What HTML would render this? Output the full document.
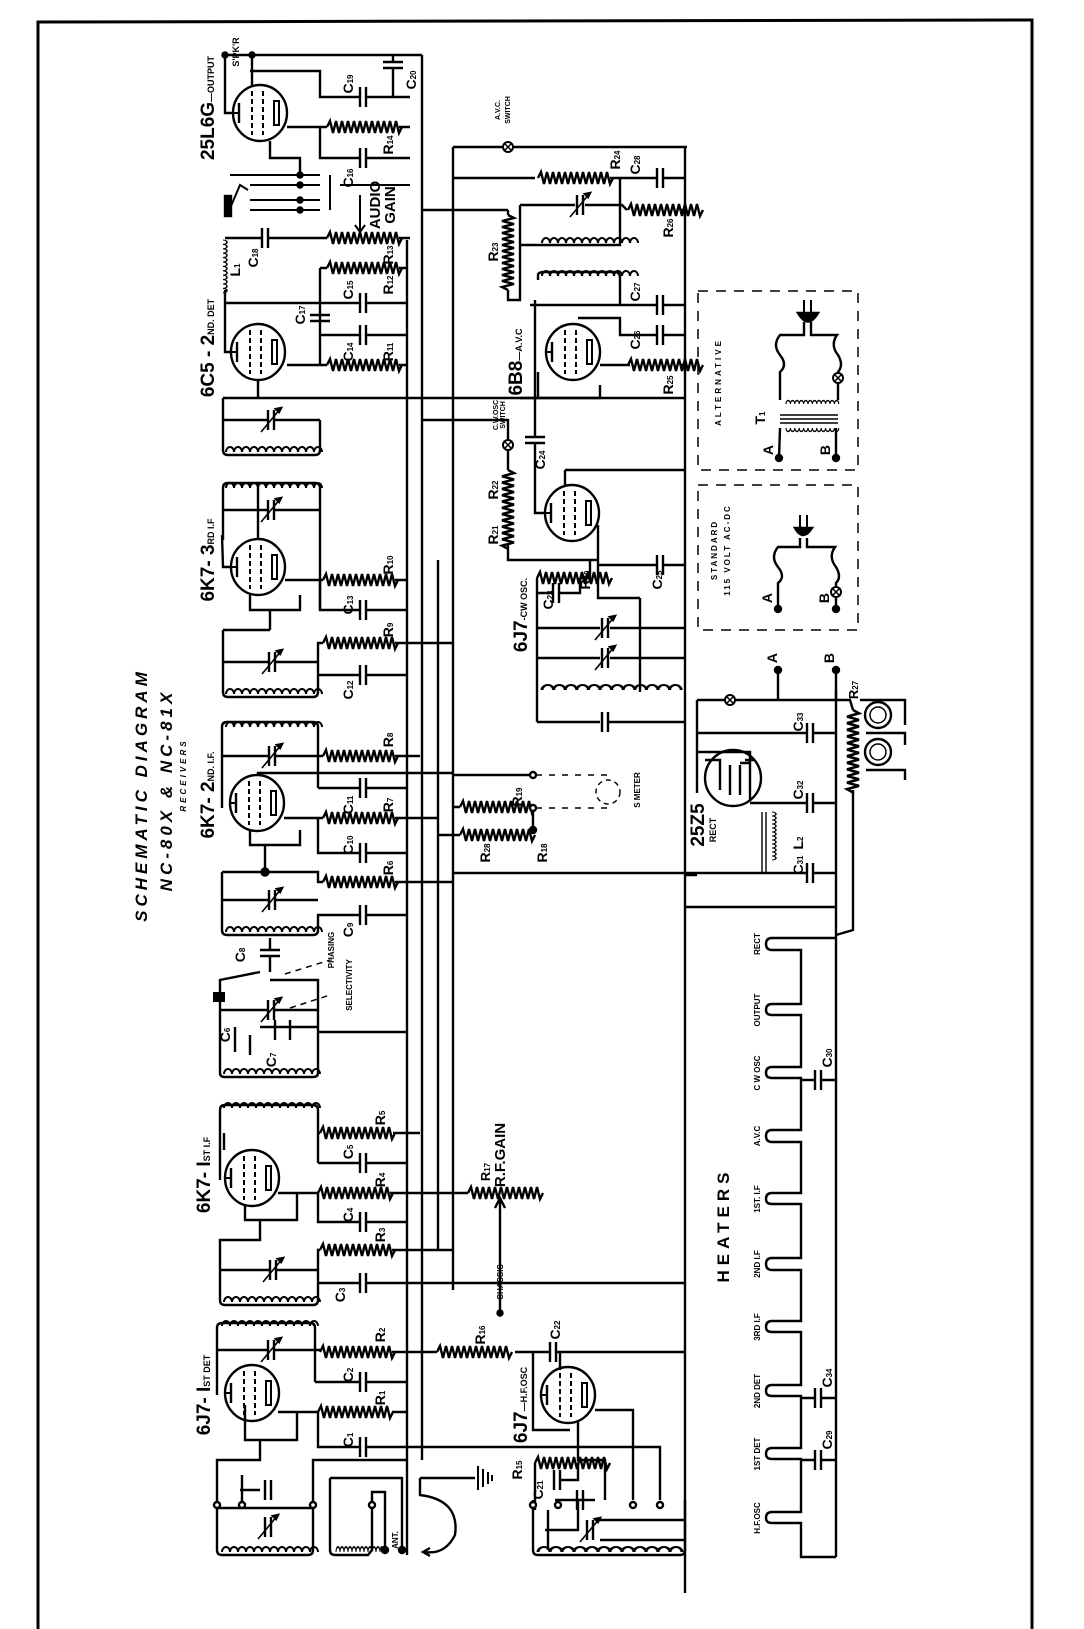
<!DOCTYPE html>
<html><head><meta charset="utf-8">
<style>
html,body{margin:0;padding:0;background:#fff;}
svg{display:block}
text{font-family:"Liberation Sans",sans-serif;font-weight:bold;fill:#000}
</style></head><body>
<svg width="1084" height="1629" viewBox="0 0 1084 1629" xmlns="http://www.w3.org/2000/svg">
<defs>
<path id="res" d="M0,0 l3,-6 l3,12 l3,-12 l3,12 l3,-12 l3,12 l3,-12 l3,12 l3,-12 l3,12 l3,-12 l3,12 l3,-12 l3,12 l3,-12 l3,12 l3,-12 l3,12 l3,-12 l3,12 l3,-12 l3,12 l3,-12 l3,12 l3,-6" fill="none" stroke="#000" stroke-width="2.4"/>
<path id="coil" d="M0,0 a4,5 0 1,1 8,0 a4,5 0 1,1 8,0 a4,5 0 1,1 8,0 a4,5 0 1,1 8,0 a4,5 0 1,1 8,0 a4,5 0 1,1 8,0 a4,5 0 1,1 8,0 a4,5 0 1,1 8,0 a4,5 0 1,1 8,0 a4,5 0 1,1 8,0 a4,5 0 1,1 8,0 a4,5 0 1,1 8,0" fill="none" stroke="#000" stroke-width="2"/>
<g id="cap"><line x1="-3" y1="-10" x2="-3" y2="10" stroke="#000" stroke-width="2.4"/><line x1="3" y1="-10" x2="3" y2="10" stroke="#000" stroke-width="2.4"/></g>
<g id="vcap"><line x1="-10" y1="-3" x2="10" y2="-3" stroke="#000" stroke-width="2.4"/><line x1="-10" y1="3" x2="10" y2="3" stroke="#000" stroke-width="2.4"/></g>
<g id="var"><use href="#cap"/><line x1="-10" y1="12" x2="10" y2="-12" stroke="#000" stroke-width="1.6"/><path d="M10,-12 l-5,1 l3,3z"/></g>
<g id="tube"><ellipse cx="0" cy="0" rx="27" ry="28" fill="none" stroke="#000" stroke-width="2.4"/>
<line x1="-8" y1="-22" x2="-8" y2="22" stroke="#000" stroke-width="2" stroke-dasharray="5,3"/>
<line x1="3" y1="-22" x2="3" y2="22" stroke="#000" stroke-width="2" stroke-dasharray="5,3"/>
<line x1="-21" y1="-10" x2="-21" y2="10" stroke="#000" stroke-width="2.4"/><line x1="-27" y1="0" x2="-21" y2="0" stroke="#000" stroke-width="2"/>
<rect x="14" y="-12" width="5" height="24" fill="none" stroke="#000" stroke-width="2"/></g>
<g id="sw"><circle r="5" fill="#fff" stroke="#000" stroke-width="2"/><path d="M-3,-3 L3,3 M-3,3 L3,-3" stroke="#000" stroke-width="1.5"/></g>
</defs>

<g fill="none" stroke="#000" stroke-width="2.4">
<path d="M38,1629 L38,22 L1032,20 L1032,1629" stroke-width="3"/>
<line x1="407" y1="240" x2="407" y2="1555"/>
<line x1="422" y1="55" x2="422" y2="1460"/>
<line x1="438" y1="560" x2="438" y2="1250"/>
<line x1="453" y1="147" x2="453" y2="1290"/>
<line x1="685" y1="147" x2="685" y2="1593"/>
<line x1="836" y1="690" x2="836" y2="1557"/>

<line x1="225" y1="55" x2="422" y2="55"/>
<circle cx="225" cy="55" r="2.5" fill="#000"/><circle cx="252" cy="55" r="2.5" fill="#000"/>
<path d="M252,55 L252,85 M250,71 L320,71 L320,97 L360,97 M366,97 L410,97 M393,55 L393,62 M393,68 L393,97"/>
<use href="#cap" x="363" y="97"/>
<use href="#vcap" x="393" y="65"/>
<use href="#tube" x="260" y="113"/>
<path d="M233,113 L225,113 L225,55 M287,127 L327,127 M399,127 L410,127 M320,127 L320,158 L360,158 M366,158 L410,158 M270,141 L270,158 L300,158 L300,175"/>
<use href="#res" x="327" y="127"/>
<use href="#cap" x="363" y="158"/>
<path d="M230,175 L320,175 M250,185 L320,185 M250,200 L320,200 M250,210 L320,210 M330,175 L330,210 M340,185 L410,185" stroke-width="2"/>
<rect x="225" y="196" width="6" height="20" fill="#000"/>
<path d="M231,206 L240,185 L248,190" stroke-width="2"/>
<circle cx="300" cy="175" r="2.5" fill="#000"/><circle cx="300" cy="185" r="2.5" fill="#000"/><circle cx="300" cy="200" r="2.5" fill="#000"/><circle cx="300" cy="210" r="2.5" fill="#000"/>
<path d="M360,195 L360,230 M355,225 L360,232 L365,225" stroke-width="2"/>
<path d="M225,238 L262,238 M268,238 L327,238 M399,238 L410,238"/>
<use href="#cap" x="265" y="238"/>
<use href="#res" x="327" y="238"/>
<use href="#coil" transform="translate(223,240) rotate(90) scale(0.55,0.8)"/>
<path d="M320,268 L327,268 M399,268 L407,268 M320,268 L320,365 M225,303 L360,303 M366,303 L407,303 M320,335 L360,335 M366,335 L407,335 M287,365 L327,365 M399,365 L407,365"/>
<use href="#res" x="327" y="268"/>
<use href="#cap" x="363" y="303"/>
<use href="#vcap" x="320" y="318"/>
<use href="#cap" x="363" y="335"/>
<use href="#res" x="327" y="365"/>
<use href="#tube" x="258" y="352"/>
<path d="M231,352 L225,352 L225,290 M258,380 L258,398"/>
<path d="M223,398 L685,398 M223,398 L223,450 Q223,455 228,455 L315,455 Q320,455 320,450 L320,420 M223,420 L268,420 M274,420 L320,420"/>
<use href="#var" x="271" y="420"/>
<use href="#coil" x="226" y="452"/>

<path d="M223,488 L223,540 M223,488 Q223,483 228,483 L315,483 Q320,483 320,488 L320,610 M223,510 L268,510 M274,510 L320,510"/>
<use href="#coil" x="226" y="488"/>
<use href="#var" x="271" y="510"/>
<path d="M258,539 L258,483 M222,535 L223,567 L231,567"/>
<use href="#tube" x="258" y="567"/>
<path d="M285,580 L323,580 M395,580 L407,580 M320,580 L320,610 L360,610 M366,610 L407,610 M250,595 L250,610 L300,610 L300,595 M270,610 L270,630"/>
<use href="#res" x="323" y="580"/>
<use href="#cap" x="363" y="610"/>
<path d="M223,630 L270,630 M223,630 L223,692 Q223,697 228,697 L313,697 Q318,697 318,692 L318,643 L323,643 M395,643 L453,643 M223,662 L269,662 M275,662 L318,662 M318,675 L360,675 M366,675 L407,675"/>
<use href="#var" x="272" y="662"/>
<use href="#res" x="323" y="643"/>
<use href="#cap" x="363" y="675"/>
<use href="#coil" x="226" y="694"/>

<path d="M222,727 Q222,722 227,722 L313,722 Q318,722 318,727 L318,788 M222,727 L222,808 M222,756 L269,756 M275,756 L323,756 M395,756 L420,756"/>
<use href="#coil" x="226" y="727"/>
<use href="#var" x="272" y="756"/>
<use href="#res" x="323" y="756"/>
<use href="#tube" x="257" y="803"/>
<path d="M258,775 L258,773 L453,773 M318,788 L360,788 M366,788 L407,788 M284,818 L323,818 M395,818 L438,818 M318,818 L318,853 L360,853 M366,853 L407,853 M250,830 L250,845 L300,845 L300,830 M265,845 L265,872 M222,872 L318,872 L318,882 L323,882 M395,882 L453,882 M222,872 L222,930 Q222,935 227,935 L313,935 Q318,935 318,930 L318,915 L360,915 M366,915 L407,915 M222,900 L269,900 M275,900 L318,900"/>
<circle cx="265" cy="872" r="3.5" fill="#000"/>
<use href="#res" x="323" y="818"/>
<use href="#cap" x="363" y="788"/>
<use href="#cap" x="363" y="853"/>
<use href="#var" x="272" y="900"/>
<use href="#res" x="323" y="882"/>
<use href="#cap" x="363" y="915"/>
<use href="#coil" x="226" y="932"/>
<path d="M270,938 L270,950 M270,956 L270,972 M260,972 L220,980 L220,1073 Q220,1077 225,1077 L313,1077 Q318,1077 318,1073 L318,980 L270,980 M220,1010 L268,1010 M274,1010 L318,1010 M318,1032 L407,1032 M260,1027 L318,1027"/>
<use href="#vcap" x="270" y="953"/>
<use href="#var" x="271" y="1010"/>
<path d="M235,1027 L235,1052 M250,1035 L250,1055 M275,1020 L275,1040 M290,1020 L290,1040"/>
<rect x="213" y="992" width="12" height="10" fill="#000" stroke="none"/>
<path d="M285,974 L330,960 M290,1008 L330,995" stroke-width="1.5" stroke-dasharray="6,5"/>
<use href="#coil" x="224" y="1074"/>

<path d="M220,1110 Q220,1105 225,1105 L313,1105 Q318,1105 318,1110 L318,1163 M220,1110 L220,1180 M224,1133 L224,1150 M318,1133 L320,1133 M393,1133 L420,1133 M318,1163 L360,1163 M366,1163 L407,1163"/>
<use href="#coil" x="224" y="1108"/>
<use href="#res" x="320" y="1133"/>
<use href="#cap" x="363" y="1163"/>
<use href="#tube" x="252" y="1178"/>
<path d="M278,1193 L318,1193 M390,1193 L468,1193 M318,1193 L318,1222 L360,1222 M366,1222 L407,1222 M245,1205 L245,1220 L297,1220 L297,1193 M260,1220 L260,1240 L220,1240 L220,1300 Q220,1305 225,1305 L313,1305 Q318,1305 318,1300 L318,1250 L320,1250 M392,1250 L453,1250 M220,1270 L270,1270 M276,1270 L318,1270 M318,1283 L360,1283 M366,1283 L685,1283"/>
<use href="#res" x="318" y="1193"/>
<use href="#cap" x="363" y="1222"/>
<use href="#res" x="320" y="1250"/>
<use href="#var" x="273" y="1270"/>
<use href="#cap" x="363" y="1283"/>
<use href="#coil" x="224" y="1302"/>
<use href="#res" x="468" y="1193"/>
<path d="M500,1313 L500,1200 M495,1208 L500,1198 L505,1208"/>
<circle cx="500" cy="1313" r="2.5" fill="#000"/>

<path d="M217,1328 Q217,1323 222,1323 L310,1323 Q315,1323 315,1328 L315,1382 M217,1328 L217,1395 M217,1350 L268,1350 M274,1350 L320,1350 M392,1352 L437,1352 M315,1382 L360,1382 M366,1382 L407,1382"/>
<use href="#coil" x="222" y="1326"/>
<use href="#var" x="271" y="1350"/>
<use href="#res" x="320" y="1352"/>
<use href="#cap" x="363" y="1382"/>
<use href="#tube" x="252" y="1393"/>
<path d="M278,1412 L318,1412 M392,1412 L407,1412 M318,1412 L318,1447 L360,1447 M366,1447 L640,1447 M245,1405 L245,1440 L297,1440 L297,1412 M260,1440 L260,1460 L217,1460 L217,1550 Q217,1555 222,1555 L308,1555 Q313,1555 313,1550 L313,1460 L407,1460 M242,1475 L242,1508 M217,1508 L313,1508 M240,1490 L260,1490"/>
<use href="#res" x="318" y="1412"/>
<use href="#cap" x="363" y="1447"/>
<use href="#var" x="268" y="1527"/>
<use href="#cap" x="268" y="1490"/>
<circle cx="217" cy="1505" r="3" fill="#fff"/><circle cx="242" cy="1505" r="3" fill="#fff"/><circle cx="313" cy="1505" r="3" fill="#fff"/>
<use href="#coil" x="222" y="1552"/>
<path d="M330,1478 L330,1550 Q330,1555 335,1555 L368,1555 L372,1550 L372,1492 L385,1492 L385,1548 M330,1478 L402,1478 L402,1550"/>
<use href="#coil" transform="translate(336,1552) scale(0.5,1)"/>
<circle cx="372" cy="1505" r="3" fill="#fff"/><circle cx="402" cy="1550" r="3" fill="#000"/><circle cx="385" cy="1550" r="3" fill="#000"/>
<path d="M420,1478 L420,1495 Q460,1500 455,1535 Q445,1555 425,1552 M430,1548 L423,1552 L430,1556 M420,1478 L475,1478"/>
<path d="M478,1466 L478,1490 M483,1469 L483,1487 M488,1472 L488,1484 M492,1475 L492,1481" stroke-width="2"/>

<use href="#res" x="437" y="1352"/>
<path d="M515,1352 L550,1352 M556,1352 L685,1352 M533,1352 L533,1430 L570,1430 M560,1352 L560,1370"/>
<use href="#cap" x="553" y="1352"/>
<use href="#tube" x="568" y="1395"/>
<path d="M595,1410 L633,1410 L633,1500 M578,1420 L578,1460 L605,1460 L605,1500 M640,1447 L660,1447 L660,1500 M535,1463 L535,1510 M578,1463 L578,1480 L560,1480"/>
<use href="#res" x="535" y="1463"/>
<use href="#cap" x="557" y="1480"/>
<path d="M533,1500 L533,1550 Q533,1555 538,1555 L680,1555 Q685,1555 685,1550 L685,1500 M555,1500 L595,1500 M578,1500 L578,1530 L545,1530 M548,1510 L548,1550 M555,1530 L560,1530 M600,1520 L685,1520 M600,1540 L685,1540"/>
<use href="#var" x="590" y="1530"/>
<use href="#cap" x="580" y="1500"/>
<circle cx="533" cy="1505" r="3" fill="#fff"/><circle cx="558" cy="1505" r="3" fill="#fff"/><circle cx="633" cy="1505" r="3" fill="#fff"/><circle cx="660" cy="1505" r="3" fill="#fff"/>
<use href="#coil" transform="translate(538,1552) scale(1.5,1)"/>

<path d="M453,147 L503,147 M513,147 L687,147 M453,178 L535,178 M610,178 L657,178 M663,178 L685,178 M422,210 L508,210 M520,205 L575,205 M585,205 L622,205 L627,210 M680,210 L685,210"/>
<use href="#sw" x="508" y="147"/>
<use href="#res" x="538" y="178"/>
<use href="#cap" x="660" y="178"/>
<use href="#var" x="580" y="205"/>
<use href="#res" x="628" y="210"/>
<path d="M508,210 L508,215 M508,290 L508,300 L520,300 L520,205 M520,240 L520,245 L620,245 L620,178 M538,280 L538,275 Q538,272 545,272 L615,272 Q620,272 620,278 L620,305 L657,305 M663,305 L685,305 M530,305 L620,305 M535,300 L535,398 M578,318 L620,318 L620,335 L657,335 M663,335 L685,335 M600,365 L630,365 M680,365 L685,365 M600,385 L600,398 L520,398 M538,372 L538,398"/>
<use href="#res" transform="translate(508,215) rotate(90)"/>
<use href="#coil" x="542" y="243"/>
<use href="#coil" x="542" y="276"/>
<use href="#cap" x="660" y="305"/>
<use href="#tube" x="573" y="352"/>
<use href="#cap" x="660" y="335"/>
<use href="#res" x="628" y="365"/>
<path d="M422,420 L508,420 L508,440 M508,450 L508,470 M508,545 L508,560 L598,560 M535,398 L535,437 M535,443 L535,513 L545,513 M565,470 L685,470 M565,470 L565,485 M598,525 L598,598 L640,598 M598,565 L657,565 M663,565 L685,565"/>
<use href="#sw" x="508" y="445"/>
<use href="#vcap" x="535" y="440"/>
<use href="#res" transform="translate(508,470) rotate(90) scale(1.05,1)"/>
<use href="#tube" x="572" y="513"/>
<use href="#cap" x="660" y="565"/>
<path d="M580,578 L590,578 L590,560 M537,578 L537,722 M537,593 L553,593 M559,593 L580,593 L580,578 M537,628 L600,628 M610,628 L685,628 M537,658 L600,658 M610,658 L685,658 M640,598 L640,692 M537,722 L600,722 M608,722 L685,722"/>
<use href="#res" x="537" y="578"/>
<use href="#cap" x="556" y="593"/>
<use href="#var" x="605" y="628"/>
<use href="#var" x="605" y="658"/>
<use href="#cap" x="605" y="722"/>
<use href="#coil" transform="translate(542,690) scale(1.45,1)"/>
<path d="M453,775 L533,775 M453,807 L460,807 M438,835 L460,835 M453,873 L685,873 M530,807 L533,807 M533,807 L533,830"/>
<use href="#res" x="460" y="807"/>
<use href="#res" x="460" y="835"/>
<circle cx="533" cy="775" r="3" fill="#fff"/><circle cx="533" cy="808" r="3" fill="#fff"/><circle cx="533" cy="830" r="3" fill="#000"/>
<path d="M536,775 L610,775 M536,808 L610,808" stroke-width="1.6" stroke-dasharray="6,7"/>
<circle cx="608" cy="792" r="12" stroke-width="1.4" stroke-dasharray="5,4"/>

<path d="M697,700 L725,700 M735,700 L836,700 M778,670 L778,700 M836,670 L836,700 M697,700 L697,752 M697,733 L807,733 M813,733 L836,733 M697,752 L750,752 L750,800 M697,752 L697,793 M740,763 L750,763 M750,803 L807,803 M813,803 L836,803 M685,873 L807,873 M813,873 L836,873 M685,907 L836,907 M685,875 L697,875"/>
<circle cx="778" cy="670" r="3" fill="#000"/><circle cx="836" cy="670" r="3" fill="#000"/>
<use href="#sw" x="730" y="700"/>
<use href="#cap" x="810" y="733"/>
<use href="#cap" x="810" y="803"/>
<use href="#cap" x="810" y="873"/>
<circle cx="733" cy="778" r="28"/>
<path d="M705,760 L720,760 L720,790 M745,760 L755,760 M730,765 L730,795 M740,765 L740,795"/>
<path d="M762,812 L762,873 M766,812 L766,873" stroke-width="1.4"/>
<use href="#coil" transform="translate(772,812) rotate(90) scale(0.5,0.8)"/>
<path d="M836,700 L850,700 L853,710 M853,790 L853,830 M860,700 L905,700 L905,725 M866,733 L905,733 L905,745 M866,770 L905,770 L905,780"/>
<use href="#res" transform="translate(853,710) rotate(90) scale(1.1,1)"/>
<circle cx="878" cy="715" r="13"/><circle cx="878" cy="715" r="8" stroke-width="1.5"/>
<circle cx="878" cy="752" r="13"/><circle cx="878" cy="752" r="8" stroke-width="1.5"/>
<path d="M853,830 L853,930 L836,935"/>

<path d="M836,938 L772,938 Q766,938 766,944 Q766,950 772,950 L801,950 L801,1004 L772,1004 Q766,1004 766,1010 Q766,1015 772,1015 L801,1015 L801,1067 L772,1067 Q766,1067 766,1073 Q766,1078 772,1078 L801,1078 L801,1130 L772,1130 Q766,1130 766,1136 Q766,1142 772,1142 L801,1142 L801,1193 L772,1193 Q766,1193 766,1199 Q766,1204 772,1204 L801,1204 L801,1258 L772,1258 Q766,1258 766,1264 Q766,1270 772,1270 L801,1270 L801,1321 L772,1321 Q766,1321 766,1327 Q766,1332 772,1332 L801,1332 L801,1385 L772,1385 Q766,1385 766,1391 Q766,1396 772,1396 L801,1396 L801,1448 L772,1448 Q766,1448 766,1454 Q766,1459 772,1459 L801,1459 L801,1512 L772,1512 Q766,1512 766,1518 Q766,1523 772,1523 L801,1523 L801,1557 L836,1557"/>
<path d="M801,1080 L815,1080 M821,1080 L836,1080 M801,1398 L815,1398 M821,1398 L836,1398 M801,1460 L815,1460 M821,1460 L836,1460"/>
<use href="#cap" x="818" y="1080"/>
<use href="#cap" x="818" y="1398"/>
<use href="#cap" x="818" y="1460"/>

<rect x="698" y="291" width="160" height="179" stroke-width="1.5" stroke-dasharray="10,8"/>
<rect x="698" y="485" width="160" height="145" stroke-width="1.5" stroke-dasharray="10,8"/>
<!-- alternative transformer -->
<path d="M804,300 L804,318 M811,300 L811,318" stroke-width="2"/>
<path d="M798,313 Q808,330 818,313 Z" fill="#000"/>
<path d="M804,322 L804,335 L780,335 Q772,345 780,355 Q788,365 780,372 L780,400 M811,322 L811,335 L837,335 Q830,345 838,355 Q844,365 838,372 L838,400"/>
<use href="#sw" x="838" y="378"/>
<use href="#coil" transform="translate(786,404) scale(0.55,0.7)"/>
<path d="M780,415 L838,415 M780,419 L838,419 M780,423 L838,423" stroke-width="1.5"/>
<use href="#coil" transform="translate(786,428) scale(0.55,-0.7)"/>
<path d="M780,428 L779,458 M836,428 L836,458"/>
<circle cx="779" cy="458" r="3" fill="#000"/><circle cx="836" cy="458" r="3" fill="#000"/>
<!-- standard -->
<path d="M800,515 L800,530 M807,515 L807,530" stroke-width="2"/>
<path d="M795,528 Q803,542 812,528 Z" fill="#000"/>
<path d="M800,538 L800,547 L778,547 Q770,557 778,567 Q786,577 778,583 L778,609 M807,538 L807,547 L835,547 Q828,557 836,567 Q842,577 836,583 L836,609"/>
<use href="#sw" x="836" y="592"/>
<circle cx="778" cy="609" r="3" fill="#000"/><circle cx="836" cy="609" r="3" fill="#000"/>
</g>

<g font-size="16">
<text transform="translate(214,108) rotate(-90)" text-anchor="middle" font-size="19">25L6G<tspan font-size="9">—OUTPUT</tspan></text>
<text transform="translate(239,52) rotate(-90)" text-anchor="middle" font-size="9">S'PK'R</text>
<text transform="translate(214,348) rotate(-90)" text-anchor="middle" font-size="19">6C5 - 2<tspan font-size="9">ND. DET</tspan></text>
<text transform="translate(214,560) rotate(-90)" text-anchor="middle" font-size="19">6K7- 3<tspan font-size="9">RD I.F</tspan></text>
<text transform="translate(214,795) rotate(-90)" text-anchor="middle" font-size="19">6K7- 2<tspan font-size="9">ND. I.F.</tspan></text>
<text transform="translate(210,1175) rotate(-90)" text-anchor="middle" font-size="19">6K7- I<tspan font-size="9">ST I.F</tspan></text>
<text transform="translate(210,1395) rotate(-90)" text-anchor="middle" font-size="19">6J7- I<tspan font-size="9">ST DET</tspan></text>
<text transform="translate(527,1405) rotate(-90)" text-anchor="middle" font-size="19">6J7<tspan font-size="9">—H.F.OSC</tspan></text>
<text transform="translate(527,615) rotate(-90)" text-anchor="middle" font-size="19">6J7<tspan font-size="9">-CW OSC.</tspan></text>
<text transform="translate(522,362) rotate(-90)" text-anchor="middle" font-size="19">6B8<tspan font-size="9">—A.V.C</tspan></text>
<text transform="translate(704,825) rotate(-90)" text-anchor="middle" font-size="19">25Z5</text>
<text transform="translate(716,830) rotate(-90)" text-anchor="middle" font-size="9">RECT</text>
<text transform="translate(147,795) rotate(-90)" text-anchor="middle" font-size="17" font-style="italic" letter-spacing="4">SCHEMATIC  DIAGRAM</text>
<text transform="translate(172,790) rotate(-90)" text-anchor="middle" font-size="17" font-style="italic" letter-spacing="4">NC-80X &amp; NC-81X</text>
<text transform="translate(186,775) rotate(-90)" text-anchor="middle" font-size="8" font-style="italic" letter-spacing="3">RECEIVERS</text>
<text transform="translate(729,1225) rotate(-90)" text-anchor="middle" font-size="17" letter-spacing="5">HEATERS</text>
<text transform="translate(380,205) rotate(-90)" text-anchor="middle" font-size="15">AUDIO</text>
<text transform="translate(395,205) rotate(-90)" text-anchor="middle" font-size="15">GAIN</text>
<text transform="translate(505,1155) rotate(-90)" text-anchor="middle" font-size="15">R.F.GAIN</text>
<text transform="translate(490,1172) rotate(-90)" text-anchor="middle" font-size="13">R<tspan font-size="8">17</tspan></text>
<text transform="translate(503,1282) rotate(-90)" text-anchor="middle" font-size="8">CHASSIS</text>
<text transform="translate(498,415) rotate(-90)" text-anchor="middle" font-size="7">C.W.OSC</text>
<text transform="translate(505,415) rotate(-90)" text-anchor="middle" font-size="7">SWITCH</text>
<text transform="translate(500,110) rotate(-90)" text-anchor="middle" font-size="7">A.V.C.</text>
<text transform="translate(510,110) rotate(-90)" text-anchor="middle" font-size="7">SWITCH</text>
<text transform="translate(640,790) rotate(-90)" text-anchor="middle" font-size="8">S METER</text>
<text transform="translate(334,950) rotate(-90)" text-anchor="middle" font-size="8">PHASING</text>
<text transform="translate(352,985) rotate(-90)" text-anchor="middle" font-size="8">SELECTIVITY</text>
<text transform="translate(398,1540) rotate(-90)" text-anchor="middle" font-size="8">ANT.</text>
<text transform="translate(721,382) rotate(-90)" text-anchor="middle" font-size="8" letter-spacing="3">ALTERNATIVE</text>
<text transform="translate(765,418) rotate(-90)" text-anchor="middle" font-size="14">T<tspan font-size="8">1</tspan></text>
<text transform="translate(717,550) rotate(-90)" text-anchor="middle" font-size="8" letter-spacing="2">STANDARD</text>
<text transform="translate(730,550) rotate(-90)" text-anchor="middle" font-size="8" letter-spacing="2">115 VOLT AC-DC</text>
<text transform="translate(773,450) rotate(-90)" text-anchor="middle" font-size="14">A</text>
<text transform="translate(830,450) rotate(-90)" text-anchor="middle" font-size="14">B</text>
<text transform="translate(772,598) rotate(-90)" text-anchor="middle" font-size="14">A</text>
<text transform="translate(829,598) rotate(-90)" text-anchor="middle" font-size="14">B</text>
<text transform="translate(777,658) rotate(-90)" text-anchor="middle" font-size="14">A</text>
<text transform="translate(834,658) rotate(-90)" text-anchor="middle" font-size="14">B</text>
<text transform="translate(858,690) rotate(-90)" text-anchor="middle" font-size="13">R<tspan font-size="8">27</tspan></text>
<g font-size="8">
<text transform="translate(760,944) rotate(-90)" text-anchor="middle">RECT</text>
<text transform="translate(760,1010) rotate(-90)" text-anchor="middle">OUTPUT</text>
<text transform="translate(760,1073) rotate(-90)" text-anchor="middle">C W OSC</text>
<text transform="translate(760,1136) rotate(-90)" text-anchor="middle">A.V.C</text>
<text transform="translate(760,1199) rotate(-90)" text-anchor="middle">1ST. I.F</text>
<text transform="translate(760,1264) rotate(-90)" text-anchor="middle">2ND I.F</text>
<text transform="translate(760,1327) rotate(-90)" text-anchor="middle">3RD I.F</text>
<text transform="translate(760,1391) rotate(-90)" text-anchor="middle">2ND DET</text>
<text transform="translate(760,1454) rotate(-90)" text-anchor="middle">1ST DET</text>
<text transform="translate(760,1518) rotate(-90)" text-anchor="middle">H.F.OSC</text>
</g>
<g font-size="14">
<text transform="translate(353,84) rotate(-90)" text-anchor="middle">C<tspan font-size="8">19</tspan></text>
<text transform="translate(416,80) rotate(-90)" text-anchor="middle">C<tspan font-size="8">20</tspan></text>
<text transform="translate(393,145) rotate(-90)" text-anchor="middle">R<tspan font-size="8">14</tspan></text>
<text transform="translate(353,178) rotate(-90)" text-anchor="middle">C<tspan font-size="8">16</tspan></text>
<text transform="translate(393,255) rotate(-90)" text-anchor="middle">R<tspan font-size="8">13</tspan></text>
<text transform="translate(258,258) rotate(-90)" text-anchor="middle">C<tspan font-size="8">18</tspan></text>
<text transform="translate(240,270) rotate(-90)" text-anchor="middle">L<tspan font-size="8">1</tspan></text>
<text transform="translate(393,285) rotate(-90)" text-anchor="middle">R<tspan font-size="8">12</tspan></text>
<text transform="translate(353,290) rotate(-90)" text-anchor="middle">C<tspan font-size="8">15</tspan></text>
<text transform="translate(305,315) rotate(-90)" text-anchor="middle">C<tspan font-size="8">17</tspan></text>
<text transform="translate(353,352) rotate(-90)" text-anchor="middle">C<tspan font-size="8">14</tspan></text>
<text transform="translate(393,352) rotate(-90)" text-anchor="middle">R<tspan font-size="8">11</tspan></text>
<text transform="translate(393,565) rotate(-90)" text-anchor="middle">R<tspan font-size="8">10</tspan></text>
<text transform="translate(353,605) rotate(-90)" text-anchor="middle">C<tspan font-size="8">13</tspan></text>
<text transform="translate(393,630) rotate(-90)" text-anchor="middle">R<tspan font-size="8">9</tspan></text>
<text transform="translate(353,690) rotate(-90)" text-anchor="middle">C<tspan font-size="8">12</tspan></text>
<text transform="translate(393,740) rotate(-90)" text-anchor="middle">R<tspan font-size="8">8</tspan></text>
<text transform="translate(353,805) rotate(-90)" text-anchor="middle">C<tspan font-size="8">11</tspan></text>
<text transform="translate(393,805) rotate(-90)" text-anchor="middle">R<tspan font-size="8">7</tspan></text>
<text transform="translate(353,845) rotate(-90)" text-anchor="middle">C<tspan font-size="8">10</tspan></text>
<text transform="translate(393,868) rotate(-90)" text-anchor="middle">R<tspan font-size="8">6</tspan></text>
<text transform="translate(353,930) rotate(-90)" text-anchor="middle">C<tspan font-size="8">9</tspan></text>
<text transform="translate(245,955) rotate(-90)" text-anchor="middle">C<tspan font-size="8">8</tspan></text>
<text transform="translate(230,1035) rotate(-90)" text-anchor="middle">C<tspan font-size="8">6</tspan></text>
<text transform="translate(276,1060) rotate(-90)" text-anchor="middle">C<tspan font-size="8">7</tspan></text>
<text transform="translate(385,1118) rotate(-90)" text-anchor="middle">R<tspan font-size="8">5</tspan></text>
<text transform="translate(353,1152) rotate(-90)" text-anchor="middle">C<tspan font-size="8">5</tspan></text>
<text transform="translate(385,1180) rotate(-90)" text-anchor="middle">R<tspan font-size="8">4</tspan></text>
<text transform="translate(353,1215) rotate(-90)" text-anchor="middle">C<tspan font-size="8">4</tspan></text>
<text transform="translate(385,1235) rotate(-90)" text-anchor="middle">R<tspan font-size="8">3</tspan></text>
<text transform="translate(345,1295) rotate(-90)" text-anchor="middle">C<tspan font-size="8">3</tspan></text>
<text transform="translate(385,1335) rotate(-90)" text-anchor="middle">R<tspan font-size="8">2</tspan></text>
<text transform="translate(353,1375) rotate(-90)" text-anchor="middle">C<tspan font-size="8">2</tspan></text>
<text transform="translate(385,1398) rotate(-90)" text-anchor="middle">R<tspan font-size="8">1</tspan></text>
<text transform="translate(353,1440) rotate(-90)" text-anchor="middle">C<tspan font-size="8">1</tspan></text>
<text transform="translate(485,1335) rotate(-90)" text-anchor="middle">R<tspan font-size="8">16</tspan></text>
<text transform="translate(560,1330) rotate(-90)" text-anchor="middle">C<tspan font-size="8">22</tspan></text>
<text transform="translate(522,1470) rotate(-90)" text-anchor="middle">R<tspan font-size="8">15</tspan></text>
<text transform="translate(543,1490) rotate(-90)" text-anchor="middle">C<tspan font-size="8">21</tspan></text>
<text transform="translate(620,160) rotate(-90)" text-anchor="middle">R<tspan font-size="8">24</tspan></text>
<text transform="translate(640,165) rotate(-90)" text-anchor="middle">C<tspan font-size="8">28</tspan></text>
<text transform="translate(673,228) rotate(-90)" text-anchor="middle">R<tspan font-size="8">26</tspan></text>
<text transform="translate(498,252) rotate(-90)" text-anchor="middle">R<tspan font-size="8">23</tspan></text>
<text transform="translate(640,292) rotate(-90)" text-anchor="middle">C<tspan font-size="8">27</tspan></text>
<text transform="translate(640,340) rotate(-90)" text-anchor="middle">C<tspan font-size="8">26</tspan></text>
<text transform="translate(673,385) rotate(-90)" text-anchor="middle">R<tspan font-size="8">25</tspan></text>
<text transform="translate(545,460) rotate(-90)" text-anchor="middle">C<tspan font-size="8">24</tspan></text>
<text transform="translate(498,490) rotate(-90)" text-anchor="middle">R<tspan font-size="8">22</tspan></text>
<text transform="translate(498,535) rotate(-90)" text-anchor="middle">R<tspan font-size="8">21</tspan></text>
<text transform="translate(590,580) rotate(-90)" text-anchor="middle">R<tspan font-size="8">20</tspan></text>
<text transform="translate(662,580) rotate(-90)" text-anchor="middle">C<tspan font-size="8">25</tspan></text>
<text transform="translate(553,600) rotate(-90)" text-anchor="middle">C<tspan font-size="8">23</tspan></text>
<text transform="translate(522,797) rotate(-90)" text-anchor="middle">R<tspan font-size="8">19</tspan></text>
<text transform="translate(490,853) rotate(-90)" text-anchor="middle">R<tspan font-size="8">28</tspan></text>
<text transform="translate(547,853) rotate(-90)" text-anchor="middle">R<tspan font-size="8">18</tspan></text>
<text transform="translate(803,722) rotate(-90)" text-anchor="middle">C<tspan font-size="8">33</tspan></text>
<text transform="translate(803,790) rotate(-90)" text-anchor="middle">C<tspan font-size="8">32</tspan></text>
<text transform="translate(803,843) rotate(-90)" text-anchor="middle">L<tspan font-size="8">2</tspan></text>
<text transform="translate(803,865) rotate(-90)" text-anchor="middle">C<tspan font-size="8">31</tspan></text>
<text transform="translate(832,1058) rotate(-90)" text-anchor="middle">C<tspan font-size="8">30</tspan></text>
<text transform="translate(832,1378) rotate(-90)" text-anchor="middle">C<tspan font-size="8">34</tspan></text>
<text transform="translate(832,1440) rotate(-90)" text-anchor="middle">C<tspan font-size="8">29</tspan></text>
</g>
</g>
</svg>
</body></html>
